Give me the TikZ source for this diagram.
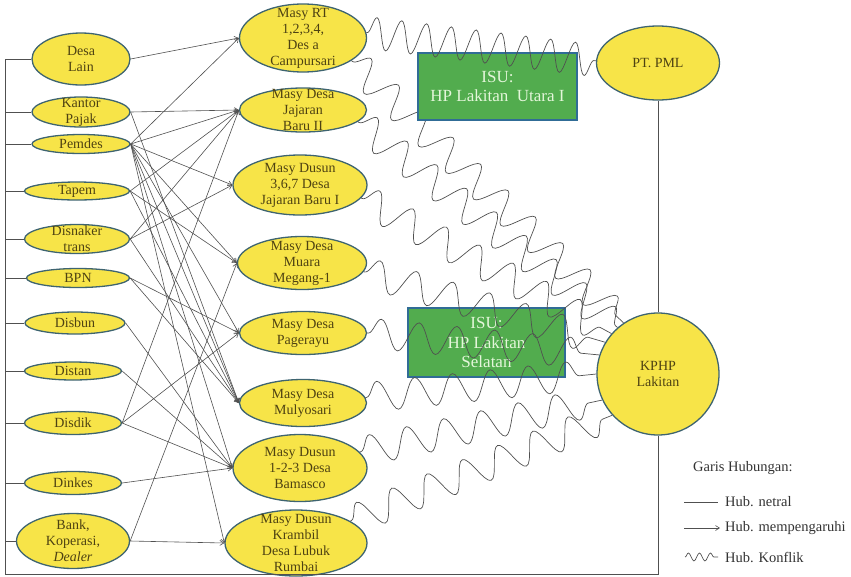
\documentclass[tikz,border=0pt]{standalone}
\usepackage{fontspec}
\setmainfont{Liberation Serif}
\usetikzlibrary{shapes.geometric,arrows.meta,decorations.pathmorphing}
\definecolor{yfill}{RGB}{247,228,72}
\definecolor{ydraw}{RGB}{62,100,112}
\definecolor{ytext}{RGB}{78,66,18}
\definecolor{gfill}{RGB}{82,172,78}
\definecolor{gdraw}{RGB}{48,108,150}
\definecolor{gtext}{RGB}{228,246,218}
\definecolor{lgray}{RGB}{80,80,80}
\newcommand\mkell[6]{\node[yell, minimum width=#4pt, minimum height=#5pt] (#1) at (#2,#3) {};
  \node[ytxt] (#1-t) at (#1) {#6};}
\begin{document}
\begin{tikzpicture}[x=1pt,y=-1pt,
 yell/.style={ellipse, draw=ydraw, fill=yfill, line width=1.3pt, inner sep=0pt},
 ytxt/.style={text=ytext, font=\fontsize{14}{16}\selectfont, align=center, inner sep=0pt},
 gbox/.style={rectangle, draw=gdraw, fill=gfill, line width=1.2pt, inner sep=0pt},
 gtxt/.style={text=gtext, font=\fontsize{17}{19.5}\selectfont, align=center, inner sep=0pt},
 rel/.style={draw=lgray, line width=0.6pt, -{Straight Barb[length=4pt,width=5pt]}},
 neutral/.style={draw=lgray, line width=0.8pt},
 conflict/.style={draw=lgray, line width=0.7pt, decorate, decoration={snake, amplitude=15pt, segment length=38pt, pre length=1pt, post length=1pt}},
 conflicttop/.style={draw=lgray, line width=0.7pt, decorate, decoration={snake, amplitude=16pt, segment length=25pt, pre length=1pt, post length=1pt}},
 legtxt/.style={text=black!80, font=\fontsize{14.5}{16}\selectfont, anchor=west, inner sep=0pt},
]
\useasboundingbox (0,0) rectangle (851,576);

% left column
\mkell{dl}{81}{59}{98}{52}{Desa\\Lain}
\mkell{kp}{81}{112}{98}{30}{Kantor\\Pajak}
\mkell{pd}{81}{144}{98}{19}{Pemdes}
\mkell{tp}{77}{191}{105}{18}{Tapem}
\mkell{dt}{77}{239}{105}{29}{Disnaker\\trans}
\mkell{bpn}{78}{278}{103}{19}{BPN}
\mkell{db}{75}{323}{100}{22}{Disbun}
\mkell{ds}{73}{371}{97}{18}{Distan}
\mkell{dd}{73}{423}{97}{23}{Disdik}
\mkell{dk}{73}{483}{97}{23}{Dinkes}
\mkell{bk}{73}{541}{113}{55}{Bank,\\Koperasi,\\\textit{Dealer}}

% middle column
\mkell{rt}{303}{38}{127}{68}{Masy RT\\1,2,3,4,\\Des a\\Campursari}
\mkell{jj}{303}{110}{127}{44}{Masy Desa\\Jajaran\\Baru II}
\mkell{du}{300}{185}{134}{60}{Masy Dusun\\3,6,7 Desa\\Jajaran Baru I}
\mkell{mm}{302}{263}{129}{53}{Masy Desa\\Muara\\Megang-1}
\mkell{pg}{303}{333}{127}{43}{Masy Desa\\Pagerayu}
\mkell{ml}{303}{403}{127}{47}{Masy Desa\\Mulyosari}
\mkell{bm}{300}{468}{134}{67}{Masy Dusun\\1-2-3 Desa\\Bamasco}
\mkell{kr}{296}{543}{142}{66}{Masy Dusun\\Krambil\\Desa Lubuk\\Rumbai}

% right
\mkell{pml}{658}{63}{123}{74}{PT. PML}
\node[yell, minimum width=122pt, minimum height=122pt] (kphp) at (658,374) {};
\node[ytxt] (kphp-t) at (kphp) {KPHP\\Lakitan};

% Selatan box
\node[gbox, minimum width=157pt, minimum height=69pt] (isus) at (486.5,342.5) {};
\node[gtxt] (isus-t) at (isus) {ISU:\\HP Lakitan\\Selatan};

% snake behind Utara box
\draw[conflict] (rt.-25) -- (kphp.124);

% Utara box
\node[gbox, minimum width=159pt, minimum height=67pt] (isuu) at (497.5,86.5) {};
\node[gtxt] (isuu-t) at (isuu) {ISU:\\HP Lakitan\ \ Utara I};

% conflict lines
\draw[conflicttop] (rt.5) -- (pml.178);
\draw[conflict] (jj.-12) -- (kphp.131);
\draw[conflict] (du.-12) -- (kphp.139);
\draw[conflict] (mm.-8) -- (kphp.149);
\draw[conflict] (pg.0) -- (kphp.162);
\draw[conflict] (ml.5) -- (kphp.180);
\draw[conflict] (bm.15) -- (kphp.205);
\draw[conflict] (kr.22) -- (kphp.222);

% influence arrows
\draw[rel] (dl.east) -- (rt.west);
\draw[rel] (kp.east) -- (jj.west);
\draw[rel] (kp.east) -- (ml.west);
\draw[rel] (pd.east) -- (rt.west);
\draw[rel] (pd.east) -- (jj.west);
\draw[rel] (pd.east) -- (du.west);
\draw[rel] (pd.east) -- (mm.west);
\draw[rel] (pd.east) -- (pg.west);
\draw[rel] (pd.east) -- (ml.west);
\draw[rel] (pd.east) -- (bm.west);
\draw[rel] (pd.east) -- (kr.west);
\draw[rel] (tp.east) -- (jj.west);
\draw[rel] (tp.east) -- (mm.west);
\draw[rel] (tp.east) -- (ml.west);
\draw[rel] (dt.east) -- (jj.west);
\draw[rel] (dt.east) -- (du.west);
\draw[rel] (dt.east) -- (ml.west);
\draw[rel] (bpn.east) -- (pg.west);
\draw[rel] (bpn.east) -- (ml.west);
\draw[rel] (db.east) -- (bm.west);
\draw[rel] (ds.east) -- (bm.west);
\draw[rel] (dd.east) -- (pg.west);
\draw[rel] (dd.east) -- (jj.west);
\draw[rel] (dd.east) -- (bm.west);
\draw[rel] (dk.east) -- (bm.west);
\draw[rel] (bk.east) -- (kr.west);
\draw[rel] (bk.east) -- (mm.west);

% neutral frame
\coordinate (f1) at (5,59);
\coordinate (f2) at (5,574);
\coordinate (f3) at (658,574);
\draw[neutral] (f1) -- (f2) -- (f3) -- (kphp.south);
\draw[neutral] (kphp.north) -- (pml.south);
\foreach \n in {dl,kp,pd,tp,dt,bpn,db,ds,dd,dk,bk}{
  \draw[neutral] (\n.west) -- (\n.west -| f1);
}

% legend
\node[legtxt] (lg0) at (693,468) {Garis Hubungan:};
\coordinate (la1) at (684,502);
\coordinate (la2) at (718,502);
\node[legtxt] (lg1) at (725,502) {Hub. netral};
\draw[neutral] (la1) -- (la2);
\coordinate (lb1) at (684,528);
\coordinate (lb2) at (720,528);
\node[legtxt] (lg2) at (725,528) {Hub. mempengaruhi};
\draw[rel] (lb1) -- (lb2);
\coordinate (lc1) at (685,557);
\coordinate (lc2) at (718,557);
\node[legtxt] (lg3) at (725,557) {Hub. Konflik};
\draw[draw=lgray, line width=0.7pt, decorate, decoration={snake, amplitude=4pt, segment length=11pt}] (lc1) -- (lc2);
\end{tikzpicture}
\end{document}
